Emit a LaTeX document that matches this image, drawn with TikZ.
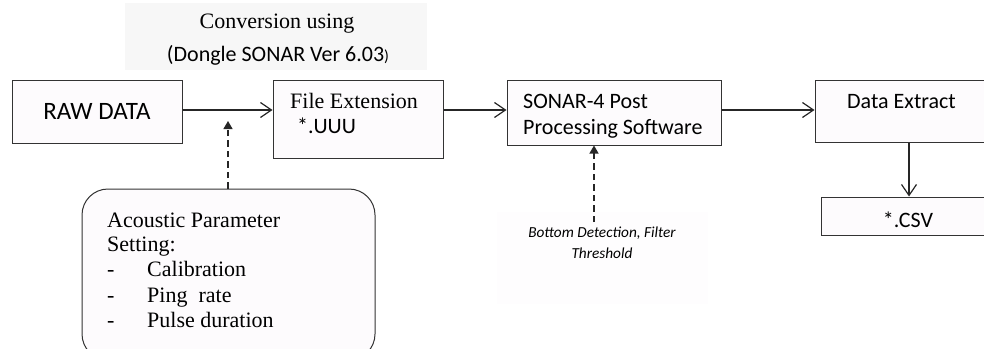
\documentclass[tikz,border=0pt]{standalone}
\usepackage{fontspec}
\setmainfont{Liberation Serif}
\newfontfamily\calfont{Carlito}
\usetikzlibrary{arrows.meta}
\definecolor{boxfill}{HTML}{FDFBFD}
\definecolor{bdfill}{HTML}{FEFDFE}
\definecolor{bgfill}{HTML}{F7F7F7}
\definecolor{edge}{HTML}{333333}
\tikzset{
  box/.style={draw=edge, line width=1pt, fill=boxfill, rectangle, inner sep=0pt},
  flow/.style={draw=black!85, line width=1.2pt, -{Straight Barb[length=11pt,width=15pt,line width=1.2pt]}},
  dflow/.style={draw=black!85, line width=1.2pt, dash pattern=on 6.5pt off 4pt, -{Triangle[length=8pt,width=9pt]}},
  sans/.style={font=\calfont\fontsize{22}{26}\selectfont, inner sep=0pt},
  serif/.style={font=\fontsize{22}{25}\selectfont, inner sep=0pt},
  ital/.style={font=\calfont\itshape\fontsize{15.3}{20}\selectfont, inner sep=0pt},
}
\begin{document}
\begin{tikzpicture}[x=1pt,y=-1pt]
\clip (0,0) rectangle (984,348);
\fill[white] (0,0) rectangle (984,348);
% backgrounds
\node[fill=bgfill, inner sep=0pt, minimum width=302pt, minimum height=67pt] (convbg) at (276,36.5) {};
\node[fill=bdfill, inner sep=0pt, minimum width=211pt, minimum height=92pt] (bdbg) at (602.5,258) {};
% boxes
\node[box, minimum width=170pt, minimum height=63pt] (raw) at (97,111.5) {};
\node[box, minimum width=170pt, minimum height=78pt] (fileext) at (358,119) {};
\node[box, minimum width=214pt, minimum height=65pt] (sonar) at (614,112.5) {};
\node[box, minimum width=185pt, minimum height=62pt] (extract) at (907.5,111) {};
\node[box, minimum width=179pt, minimum height=38pt] (csv) at (910.5,216) {};
\node[box, rounded corners=26pt, minimum width=293pt, minimum height=171pt] (acoustic) at (228.5,274.5) {};
% texts
\node[serif, anchor=base] (conv1) at (277,28) {Conversion using};
\node[sans, anchor=base] (conv2) at (278,61) {(Dongle SONAR Ver 6.03{\fontsize{16}{16}\selectfont )}};
\node[sans, font=\calfont\fontsize{25}{28}\selectfont, anchor=base] (rawt) at (97,119) {RAW DATA};
\node[serif, anchor=base west] (fet1) at (290,108) {File Extension};
\node[sans, anchor=base west] (fet2) at (297,133) {*.UUU};
\begin{scope}
\clip (sonar.north west) rectangle (sonar.south east);
\node[sans, anchor=base west] (st1) at (523,108) {SONAR-4 Post};
\node[sans, anchor=base west] (st2) at (523,134) {Processing Software};
\end{scope}
\node[sans, anchor=base west] (det) at (847,108) {Data Extract};
\node[sans, anchor=base] (csvt) at (908,227) {*.CSV};
\node[serif, anchor=base west] (a1) at (107,227) {Acoustic Parameter};
\node[serif, anchor=base west] (a2) at (107,251) {Setting:};
\node[serif, anchor=base west] (b3) at (107,276) {-};
\node[serif, anchor=base west] (a3) at (147,276) {Calibration};
\node[serif, anchor=base west] (b4) at (107,302) {-};
\node[serif, anchor=base west] (a4) at (147,302) {Ping\ \ rate};
\node[serif, anchor=base west] (b5) at (107,327) {-};
\node[serif, anchor=base west] (a5) at (147,327) {Pulse duration};
\node[ital, anchor=base] (bd1) at (602,237) {Bottom Detection, Filter};
\node[ital, anchor=base] (bd2) at (602,258) {Threshold};
% connectors
\coordinate (c1) at (228,121);
\coordinate (d2) at (594,222);
\draw[flow] (raw.east |- 0,110) -- (fileext.west |- 0,110);
\draw[flow] (fileext.east |- 0,110) -- (sonar.west |- 0,110);
\draw[flow] (sonar.east |- 0,110) -- (extract.west |- 0,110);
\draw[flow] (909,0 |- extract.south) -- (909,0 |- csv.north);
\draw[dflow] (acoustic.north -| c1) -- (c1);
\draw[dflow] (d2) -- (d2 |- sonar.south);
\end{tikzpicture}
\end{document}
